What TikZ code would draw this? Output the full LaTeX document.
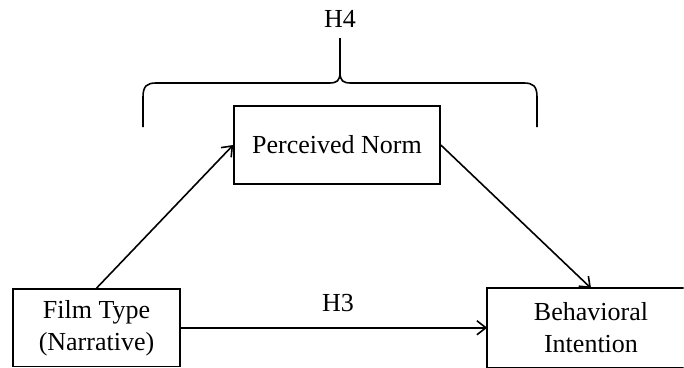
\documentclass[tikz,border=0pt]{standalone}
\usepackage{fontspec}
\setmainfont{Liberation Serif}
\usetikzlibrary{arrows.meta}
\begin{document}
\begin{tikzpicture}[x=1pt,y=-1pt,
  box/.style={draw,line width=1.6pt,rectangle,inner sep=0pt,align=center,
    font=\fontsize{26}{32}\selectfont},
  boxline/.style={line width=1.6pt},
  link/.style={line width=1.6pt,-{Straight Barb[length=9pt,width=14pt,line width=1.6pt]}},
  lbl/.style={inner sep=0pt,font=\fontsize{26}{30}\selectfont}]
\useasboundingbox (0,0) rectangle (684,367);
\clip (0,0) rectangle (683.6,367);
\node[box,minimum width=206pt,minimum height=78pt] (pn) at (337,145) {Perceived Norm};
\node[box,minimum width=167pt,minimum height=77.5pt] (film) at (96.5,327.75) {Film Type\\(Narrative)};
\node[box,draw=none,minimum width=206pt,minimum height=77.5pt] (bi) at (591,327.75) {Behavioral\\Intention};
\draw[boxline] ([xshift=40pt]bi.north east) -- (bi.north west) -- (bi.south west) -- ([xshift=40pt]bi.south east);
\draw[link] (film.north) -- (pn.west);
\draw[link] (pn.east) -- (bi.north);
\draw[link] (film.east) -- (bi.west);
\node[lbl] (h3) at (338,303) {H3};
\coordinate (bl) at (143,127);
\coordinate (br) at (537,127);
\coordinate (tip) at (340,38);
\draw[line width=1.6pt] (bl) -- (143,97) .. controls (143,86) and (147,83) .. (156,83)
  -- (329,83) .. controls (337,83) and (340,81) .. (340,72) -- (tip)
  (340,72) .. controls (340,81) and (343,83) .. (351,83)
  -- (524,83) .. controls (533,83) and (537,86) .. (537,97) -- (br);
\node[lbl] (h4) at (340,19) {H4};
\end{tikzpicture}
\end{document}
